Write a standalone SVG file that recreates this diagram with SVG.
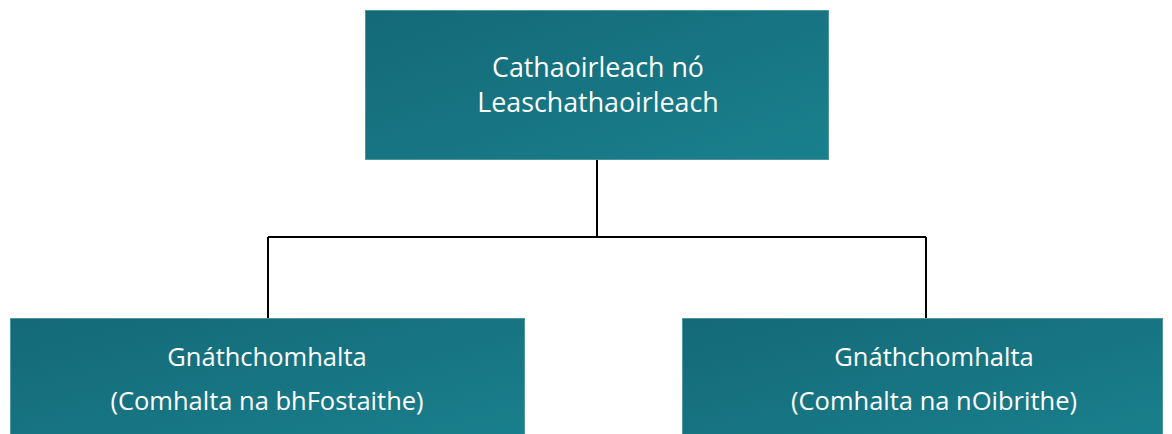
<svg xmlns="http://www.w3.org/2000/svg" width="1172" height="434" viewBox="0 0 1172 434">
<defs>
<linearGradient id="g" x1="0" y1="0" x2="1" y2="1">
<stop offset="0" stop-color="#146977"/>
<stop offset="1" stop-color="#1a808d"/>
</linearGradient>
<style>
.box{fill:url(#g);stroke:#4f95a0;stroke-width:1}
.t{font-family:"Open Sans","Liberation Sans",sans-serif;fill:#ffffff;text-anchor:middle}
.c{fill:none;stroke:#000000;stroke-width:2}
</style>
</defs>
<rect width="1172" height="434" fill="#ffffff"/>
<g id="connectors">
<path class="c" d="M597 159 V237 M268 237 H926 M268 237 V318 M926 237 V318"/>
</g>
<g id="top">
<rect class="box" x="365.5" y="10.5" width="463" height="149"/>
<text class="t" font-size="26.8" x="598" y="77">Cathaoirleach nó</text>
<text class="t" font-size="26.8" x="598" y="112">Leaschathaoirleach</text>
</g>
<g id="left">
<rect class="box" x="10.5" y="318.5" width="514" height="130"/>
<text class="t" font-size="25.5" x="267" y="366">Gnáthchomhalta</text>
<text class="t" font-size="25.5" x="267" y="410">(Comhalta na bhFostaithe)</text>
</g>
<g id="right">
<rect class="box" x="682.5" y="318.5" width="480" height="130"/>
<text class="t" font-size="25.5" x="934" y="366">Gnáthchomhalta</text>
<text class="t" font-size="25.5" x="934" y="410">(Comhalta na nOibrithe)</text>
</g>
</svg>
